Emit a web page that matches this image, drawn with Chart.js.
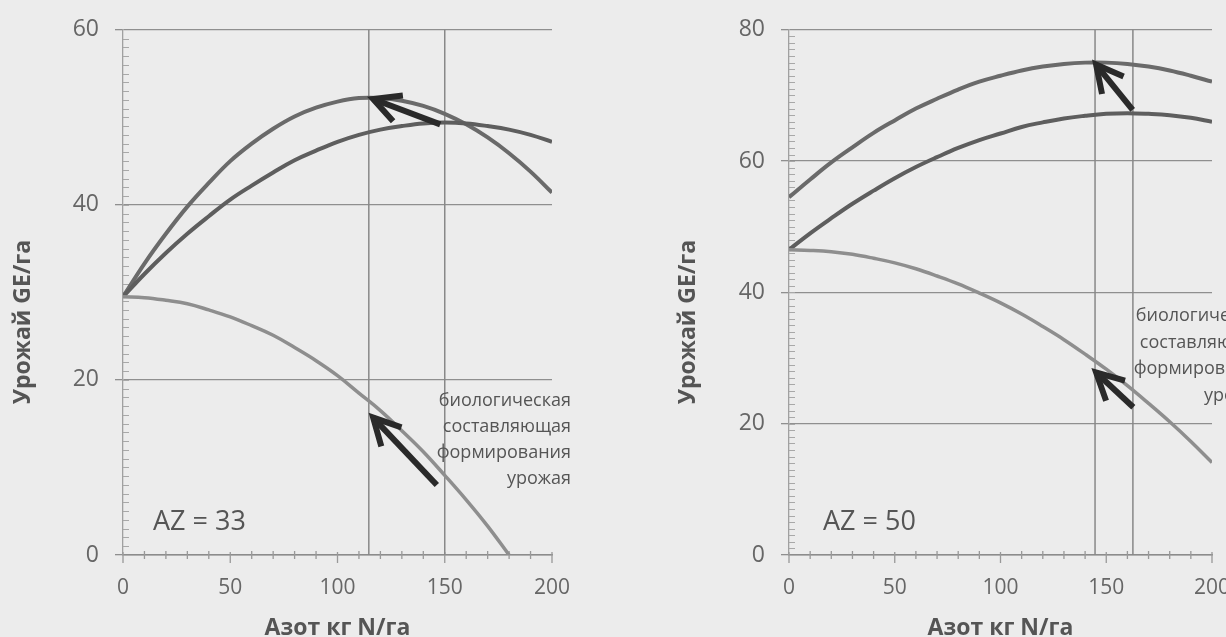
<!DOCTYPE html>
<html>
<head>
<meta charset="utf-8">
<script src="https://cdn.jsdelivr.net/npm/chart.js@4.4.0/dist/chart.umd.min.js"></script>
<style>
    html, body { margin: 0; padding: 0; background: #ececec; overflow: hidden; width: 1226px; height: 637px; }
    .panel { position: absolute; top: 0; height: 637px; }
    #panel-left { left: 0; width: 613px; }
    #panel-right { left: 613px; width: 700px; }
</style>
</head>
<body>
<div class="panel" id="panel-left"><canvas id="chartLeft" width="613" height="637"></canvas></div>
<div class="panel" id="panel-right"><canvas id="chartRight" width="700" height="637"></canvas></div>
<script>
// Nitrogen rates, kg N/ha
const nitrogenRates = [0, 10, 20, 30, 40, 50, 60, 70, 80, 90, 100, 110, 120, 130, 140, 150, 160, 170, 180, 190, 200];

// AZ = 33 (left panel)
const yieldTopLeft = [29.5, 33.3, 36.7, 39.8, 42.5, 45.0, 47.0, 48.7, 50.1, 51.1, 51.8, 52.2, 52.2, 51.9, 51.3, 50.4, 49.2, 47.7, 45.9, 43.8, 41.4];
const yieldMidLeft = [29.5, 32.1, 34.5, 36.7, 38.7, 40.6, 42.2, 43.7, 45.1, 46.2, 47.2, 48.0, 48.6, 49.0, 49.3, 49.4, 49.3, 49.0, 48.6, 48.0, 47.2];
const yieldBioLeft = [29.5, 29.4, 29.1, 28.7, 28.0, 27.2, 26.2, 25.1, 23.7, 22.2, 20.5, 18.5, 16.5, 14.2, 11.8, 9.1, 6.3, 3.3, 0.0];
const markersLeft = [114.6, 150];
// arrows: [fromN, fromYield, toN, toYield]
const arrowsLeft = [[147.9, 49.2, 116.6, 52.1], [146.3, 8.0, 116.6, 15.7]];

// AZ = 50 (right panel)
const yieldTopRight = [54.5, 57.2, 59.8, 62.1, 64.3, 66.2, 68.0, 69.5, 70.9, 72.1, 73.0, 73.8, 74.4, 74.8, 75.0, 75.0, 74.8, 74.4, 73.8, 73.0, 72.1];
const yieldMidRight = [46.5, 49.0, 51.3, 53.5, 55.5, 57.4, 59.1, 60.6, 62.0, 63.2, 64.2, 65.2, 65.9, 66.5, 66.9, 67.2, 67.3, 67.2, 67.0, 66.6, 66.0];
const yieldBioRight = [46.5, 46.4, 46.2, 45.8, 45.2, 44.5, 43.6, 42.5, 41.3, 39.9, 38.4, 36.7, 34.8, 32.8, 30.6, 28.3, 25.8, 23.1, 20.3, 17.3, 14.1];
const markersRight = [144.7, 162.6];
const arrowsRight = [[162.5, 67.8, 145.2, 74.7], [162.8, 22.5, 145.2, 27.8]];

const bioLabel = ['биологическая', 'составляющая', 'формирования', 'урожая'];

const FONT = "'Open Sans', 'Noto Sans', sans-serif";

function toPoints(xs, ys) {
    return ys.map((y, i) => ({ x: xs[i], y: y }));
}

function drawArrow(ctx, x1, y1, x2, y2) {
    const angle = Math.atan2(y2 - y1, x2 - x1);
    const headLen = 30;
    const spread = 0.48;
    ctx.beginPath();
    ctx.moveTo(x1, y1);
    ctx.lineTo(x2, y2);
    ctx.stroke();
    ctx.beginPath();
    ctx.moveTo(x2 - headLen * Math.cos(angle - spread), y2 - headLen * Math.sin(angle - spread));
    ctx.lineTo(x2, y2);
    ctx.lineTo(x2 - headLen * Math.cos(angle + spread), y2 - headLen * Math.sin(angle + spread));
    ctx.stroke();
}

// Marker lines, ruler ticks, arrows and labels
const yieldMarks = {
    id: 'yieldMarks',
    beforeDatasetsDraw(chart, args, opts) {
        const { ctx, chartArea, scales: { x, y } } = chart;
        ctx.save();
        // ruler ticks along the y axis
        ctx.strokeStyle = '#a8a8a8';
        ctx.lineWidth = 1;
        for (let v = 1; v < y.max; v++) {
            const py = Math.round(y.getPixelForValue(v)) + 0.5;
            ctx.beginPath();
            ctx.moveTo(chartArea.left, py);
            ctx.lineTo(chartArea.left + 6, py);
            ctx.stroke();
        }
        // cross ticks along the x axis
        ctx.strokeStyle = '#999';
        ctx.lineWidth = 1.3;
        for (let v = 0; v <= x.max; v += 10) {
            const px = x.getPixelForValue(v);
            const major = v % 50 === 0;
            ctx.beginPath();
            ctx.moveTo(px, chartArea.bottom - (major ? 3 : 4));
            ctx.lineTo(px, chartArea.bottom + (major ? 8 : 4));
            ctx.stroke();
        }
        // vertical marker lines
        ctx.strokeStyle = '#888';
        ctx.lineWidth = 1.5;
        opts.markers.forEach(n => {
            const px = x.getPixelForValue(n);
            ctx.beginPath();
            ctx.moveTo(px, chartArea.top);
            ctx.lineTo(px, chartArea.bottom);
            ctx.stroke();
        });
        ctx.restore();
    },
    afterDatasetsDraw(chart, args, opts) {
        const { ctx, scales: { x, y } } = chart;
        ctx.save();
        ctx.strokeStyle = '#2a2a2a';
        ctx.lineWidth = 6;
        ctx.lineCap = 'butt';
        ctx.lineJoin = 'miter';
        opts.arrows.forEach(a => {
            drawArrow(ctx, x.getPixelForValue(a[0]), y.getPixelForValue(a[1]),
                x.getPixelForValue(a[2]), y.getPixelForValue(a[3]));
        });

        ctx.fillStyle = '#555';
        ctx.textBaseline = 'middle';
        ctx.font = `27px ${FONT}`;
        ctx.textAlign = 'left';
        ctx.fillText(opts.azText, opts.azX, opts.azY);

        ctx.font = `18px ${FONT}`;
        ctx.textAlign = 'right';
        bioLabel.forEach((line, i) => {
            ctx.fillText(line, opts.bioX, opts.bioY + i * opts.bioStep);
        });

        // y axis title, sits a little below the middle of the axis
        ctx.translate(opts.yTitleX, opts.yTitleY);
        ctx.rotate(-Math.PI / 2);
        ctx.textAlign = 'center';
        ctx.font = `bold 23px ${FONT}`;
        ctx.fillText('Урожай GE/га', 0, 0);
        ctx.restore();
    }
};

function initYieldChart(canvasId, cfg) {
    const canvas = document.getElementById(canvasId);
    if (!canvas) return null;
    const ctx = canvas.getContext('2d');

    const line = (data, color, width) => ({
        data: data,
        borderColor: color,
        borderWidth: width,
        pointRadius: 0,
        tension: 0.4,
        fill: false
    });

    return new Chart(ctx, {
        type: 'line',
        data: {
            datasets: [
                line(toPoints(nitrogenRates, cfg.bio), '#8e8e8e', 3.5),
                line(toPoints(nitrogenRates, cfg.mid), '#5e5e5e', 4),
                line(toPoints(nitrogenRates, cfg.top), '#6a6a6a', 4)
            ]
        },
        plugins: [yieldMarks],
        options: {
            responsive: false,
            animation: false,
            layout: {
                padding: { left: cfg.padLeft, top: cfg.padTop, right: cfg.padRight, bottom: 0 }
            },
            plugins: {
                legend: { display: false },
                tooltip: { enabled: false },
                yieldMarks: {
                    markers: cfg.markers,
                    arrows: cfg.arrows,
                    azText: cfg.azText,
                    azX: cfg.azX,
                    azY: 522,
                    bioX: cfg.bioX,
                    bioY: cfg.bioY,
                    bioStep: cfg.bioStep,
                    yTitleX: cfg.yTitleX,
                    yTitleY: 322
                }
            },
            scales: {
                x: {
                    type: 'linear',
                    min: 0,
                    max: 200,
                    ticks: {
                        stepSize: 50,
                        color: '#666',
                        padding: 12,
                        font: { family: FONT, size: 21 }
                    },
                    grid: { display: false },
                    border: { display: true, color: '#8c8c8c', width: 1.5 },
                    title: {
                        display: true,
                        text: 'Азот кг N/га',
                        color: '#555',
                        padding: { top: 0, bottom: -3 },
                        font: { family: FONT, size: 23, weight: 'bold', lineHeight: 1 }
                    },
                    afterFit: (scale) => { scale.height = 82; }
                },
                y: {
                    min: 0,
                    max: cfg.yMax,
                    ticks: {
                        stepSize: 20,
                        color: '#666',
                        padding: 16,
                        font: { family: FONT, size: 23 }
                    },
                    grid: { color: '#8f8f8f', lineWidth: 1.3, tickLength: 8, tickColor: '#8f8f8f' },
                    border: { display: true, color: '#a0a0a0', width: 1.3 },
                    afterFit: (scale) => { scale.width = cfg.yWidth; }
                }
            }
        }
    });
}

document.addEventListener('DOMContentLoaded', () => {
    initYieldChart('chartLeft', {
        top: yieldTopLeft, mid: yieldMidLeft, bio: yieldBioLeft,
        markers: markersLeft, arrows: arrowsLeft,
        yMax: 60, padLeft: 0, padTop: 27, padRight: 61, yWidth: 123, yTitleX: 23,
        azText: 'AZ = 33', azX: 153, bioX: 571, bioY: 401, bioStep: 26
    });
    initYieldChart('chartRight', {
        top: yieldTopRight, mid: yieldMidRight, bio: yieldBioRight,
        markers: markersRight, arrows: arrowsRight,
        yMax: 80, padLeft: 60, padTop: 28, padRight: 101, yWidth: 116, yTitleX: 75,
        azText: 'AZ = 50', azX: 210, bioX: 655, bioY: 316, bioStep: 26.5
    });
});
</script>
</body>
</html>
